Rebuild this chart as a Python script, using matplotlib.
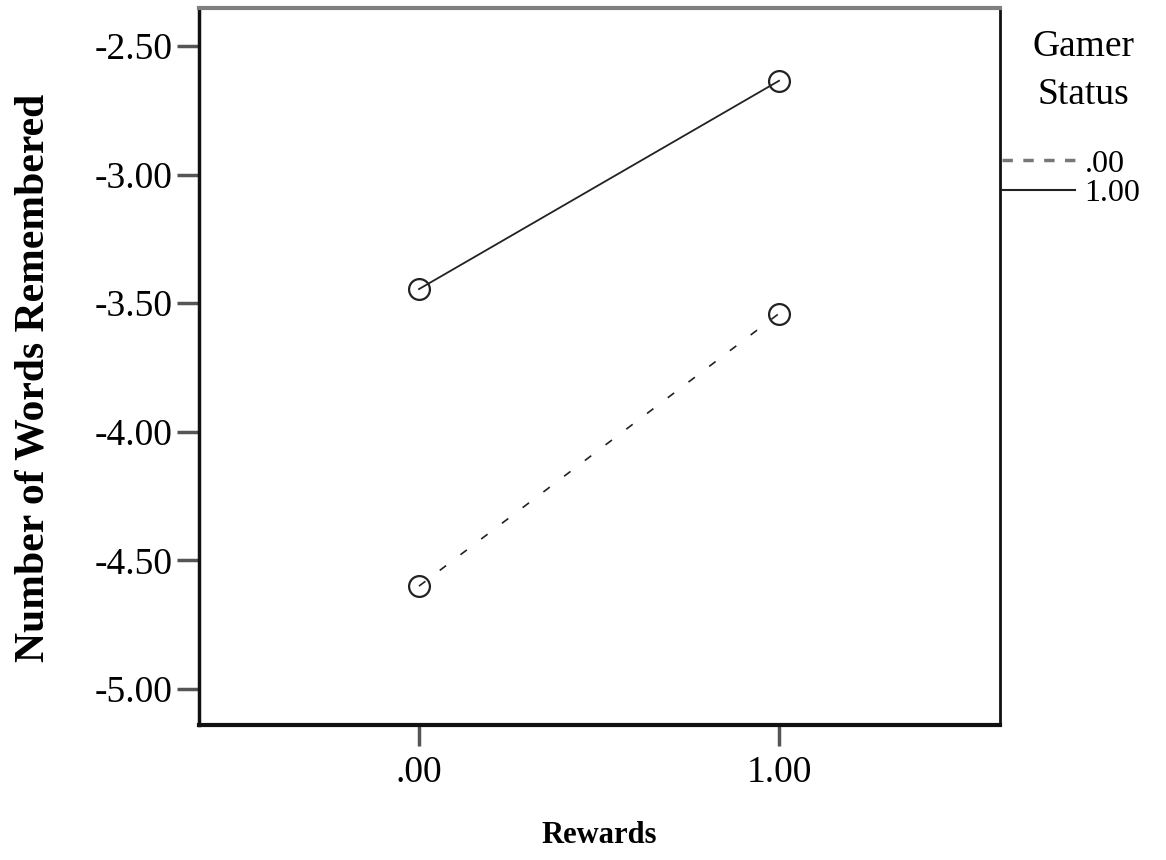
import numpy as np
import matplotlib
matplotlib.use("Agg")
import matplotlib.pyplot as plt
from matplotlib.lines import Line2D

plt.rcParams['font.family'] = ['Liberation Serif', 'DejaVu Serif']

rewards = [0.0, 1.0]
reward_labels = [".00", "1.00"]
gamer_groups = [".00", "1.00"]
means_gamer0 = [-4.60, -3.54]
means_gamer1 = [-3.445, -2.635]
yticks = [-2.50, -3.00, -3.50, -4.00, -4.50, -5.00]

fig = plt.figure(figsize=(11.66, 8.6), dpi=100)
ax = fig.add_axes([0.1707, 0.157, 0.687, 0.8337])

ax.plot(rewards, means_gamer0, color='#222222', lw=1.2, dashes=(4.8, 10.8),
        marker='o', markersize=15, markerfacecolor='none',
        markeredgecolor='#222222', markeredgewidth=1.6)
ax.plot(rewards, means_gamer1, color='#222222', lw=1.3, linestyle='-',
        marker='o', markersize=15, markerfacecolor='none',
        markeredgecolor='#222222', markeredgewidth=1.6)

ax.set_xlim(-0.611, 1.614)
ax.set_ylim(-5.14, -2.352)
ax.set_xticks(rewards)
ax.set_xticklabels(reward_labels)
ax.set_yticks(yticks)
ax.set_yticklabels(["%.2f" % v for v in yticks])

ax.tick_params(axis='y', length=16, width=2.5, color='#555555', pad=3,
               labelsize=27)
ax.tick_params(axis='x', length=15, width=2.5, color='#555555', pad=7,
               labelsize=27)

for side in ['left', 'bottom', 'right']:
    ax.spines[side].set_color('#111111')
ax.spines['left'].set_linewidth(2.5)
ax.spines['bottom'].set_linewidth(3)
ax.spines['right'].set_linewidth(2)
ax.spines['top'].set_color('#808080')
ax.spines['top'].set_linewidth(3)

ax.set_ylabel("Number of Words Remembered", fontsize=30, fontweight='bold')
ax.yaxis.set_label_coords(-0.183, 0.484)
ax.set_xlabel("Rewards", fontsize=22, fontweight='bold', labelpad=22)

# legend (title drawn separately so the gap matches)
ax.text(1.104, 0.912, "Gamer\nStatus", transform=ax.transAxes, fontsize=27,
        ha='center', va='center', linespacing=1.5, clip_on=False)
handles = [Line2D([], [], color='#777777', lw=2.5, dashes=(3, 3)),
           Line2D([], [], color='#222222', lw=1.5)]
ax.legend(handles, gamer_groups, loc='upper left',
          bbox_to_anchor=(1.002, 0.803), frameon=False, fontsize=23,
          borderpad=0, borderaxespad=0, handlelength=2.3,
          handletextpad=0.3, labelspacing=0.0)

fig.savefig("out.png", dpi=100)
